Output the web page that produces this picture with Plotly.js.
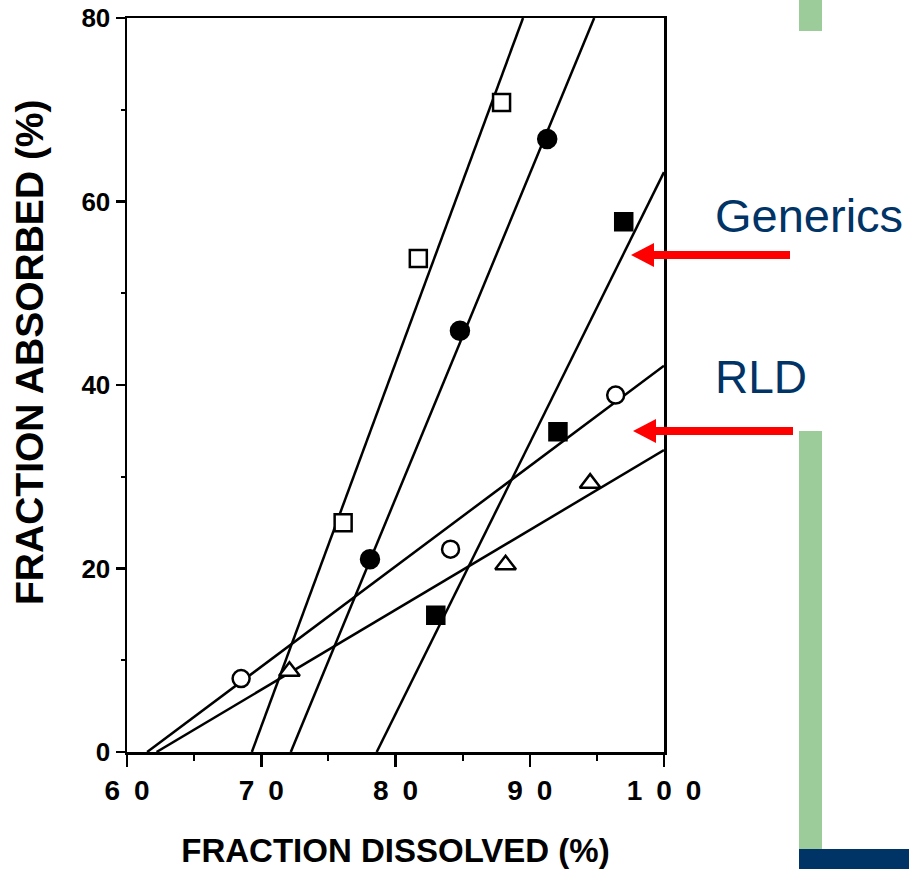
<!DOCTYPE html>
<html>
<head>
<meta charset="utf-8">
<script src="https://cdn.plot.ly/plotly-3.0.1.min.js"></script>
<style>
  html, body { margin: 0; padding: 0; background: #ffffff; }
  #chart { width: 909px; height: 869px; }
</style>
</head>
<body>
<div id="chart"></div>
<script>
// ---- data ----
const xTickVals = [60, 70, 80, 90, 100];
const xTickText = ["6\u20020", "7\u20020", "8\u20020", "9\u20020", "1\u20020\u20020"];
const xMinorVals = [65, 75, 85, 95];
const yTickVals = [0, 20, 40, 60, 80];
const yTickText = ["0", "20", "40", "60", "80"];
const yMinorVals = [10, 30, 50, 70];

// open squares
const openSqX = [76.1, 81.7, 87.9];
const openSqY = [25.0, 53.8, 70.8];
const openSqLineX = [69.3, 89.5];
const openSqLineY = [0, 80];

// filled circles
const fillCircX = [78.1, 84.8, 91.3];
const fillCircY = [21.0, 45.9, 66.8];
const fillCircLineX = [72.2, 94.8];
const fillCircLineY = [0, 80];

// filled squares
const fillSqX = [83.0, 92.1, 97.0];
const fillSqY = [14.9, 34.9, 57.8];
const fillSqLineX = [78.6, 100];
const fillSqLineY = [0, 63.2];

// open circles
const openCircX = [68.5, 84.1, 96.4];
const openCircY = [8.0, 22.1, 38.9];
const openCircLineX = [61.5, 100];
const openCircLineY = [0, 42.1];

// open triangles
const triX = [72.1, 88.2, 94.5];
const triY = [8.8, 20.4, 29.3];
const triLineX = [62.2, 100];
const triLineY = [0, 32.9];

const xTitle = "FRACTION DISSOLVED (%)";
const yTitle = "FRACTION ABSORBED (%)";
const labelGenerics = "Generics";
const labelRLD = "RLD";

// ---- layout helpers (pixel -> paper) ----
const W = 909, H = 869;
const L = 127, R = 664, T = 18, B = 752;
const px = v => (v - L) / (R - L);
const py = v => (B - v) / (B - T);

const FAM = "Liberation Sans, Arial, Helvetica, sans-serif";
const lineStyle = {color: "#000", width: 2.5};
function lineTrace(x, y) {
  return {x: x, y: y, mode: "lines", line: lineStyle, hoverinfo: "skip", showlegend: false};
}
function markerTrace(x, y, symbol, size, fill) {
  return {x: x, y: y, mode: "markers", showlegend: false, cliponaxis: false,
          marker: {symbol: symbol, size: size, color: fill, line: {color: "#000", width: 2.5}}};
}

const traces = [
  lineTrace(openSqLineX, openSqLineY),
  lineTrace(fillCircLineX, fillCircLineY),
  lineTrace(fillSqLineX, fillSqLineY),
  lineTrace(openCircLineX, openCircLineY),
  lineTrace(triLineX, triLineY),
  markerTrace(openSqX, openSqY, "square", 17, "#fff"),
  markerTrace(fillCircX, fillCircY, "circle", 18, "#000"),
  markerTrace(fillSqX, fillSqY, "square", 17, "#000"),
  markerTrace(openCircX, openCircY, "circle", 17, "#fff"),
  markerTrace(triX, triY, "triangle-up", 18, "#fff")
];

const green = "#9bcc9a", navy = "#003366", red = "#ff0000";

const shapes = [
  // green bars and navy bar (slide decoration)
  {type: "rect", xref: "paper", yref: "paper", x0: px(799), x1: px(822), y0: py(0), y1: py(31),
   fillcolor: green, line: {width: 0}, layer: "above"},
  {type: "rect", xref: "paper", yref: "paper", x0: px(799), x1: px(822), y0: py(431), y1: py(849),
   fillcolor: green, line: {width: 0}, layer: "above"},
  {type: "rect", xref: "paper", yref: "paper", x0: px(799), x1: px(909), y0: py(849), y1: py(869),
   fillcolor: navy, line: {width: 0}, layer: "above"},
  // red arrows: shafts
  {type: "rect", xref: "paper", yref: "paper", x0: px(652), x1: px(790), y0: py(251), y1: py(259),
   fillcolor: red, line: {width: 0}, layer: "above"},
  {type: "rect", xref: "paper", yref: "paper", x0: px(654), x1: px(793), y0: py(427), y1: py(435),
   fillcolor: red, line: {width: 0}, layer: "above"},
  // red arrows: heads
  {type: "path", xref: "paper", yref: "paper",
   path: `M ${px(631)} ${py(255)} L ${px(654)} ${py(243)} L ${px(654)} ${py(267)} Z`,
   fillcolor: red, line: {width: 0}, layer: "above"},
  {type: "path", xref: "paper", yref: "paper",
   path: `M ${px(633)} ${py(431)} L ${px(656)} ${py(419)} L ${px(656)} ${py(443)} Z`,
   fillcolor: red, line: {width: 0}, layer: "above"}
];

const annotations = [
  {text: yTitle, xref: "paper", yref: "paper", x: px(30), y: py(352),
   xanchor: "center", yanchor: "middle", textangle: -90, showarrow: false,
   font: {family: FAM, size: 39, weight: "bold", color: "#000"}},
  {text: labelGenerics, xref: "paper", yref: "paper", x: px(713), y: py(215),
   xanchor: "left", yanchor: "middle", showarrow: false,
   font: {family: FAM, size: 47, color: navy}},
  {text: labelRLD, xref: "paper", yref: "paper", x: px(713), y: py(377),
   xanchor: "left", yanchor: "middle", showarrow: false,
   font: {family: FAM, size: 46, color: navy}}
];

const layout = {
  width: W, height: H,
  margin: {l: L, r: W - R, t: T, b: H - B, pad: 0},
  paper_bgcolor: "#fff", plot_bgcolor: "#fff",
  showlegend: false,
  font: {family: FAM, color: "#000"},
  xaxis: {
    range: [60, 100], tickvals: xTickVals, ticktext: xTickText,
    ticks: "outside", ticklen: 12, tickwidth: 2.5, tickcolor: "#000",
    minor: {tickvals: xMinorVals, ticks: "outside", ticklen: 6, tickwidth: 2, tickcolor: "#000"},
    showline: true, linewidth: 2.5, linecolor: "#000", mirror: true,
    showgrid: false, zeroline: false,
    tickfont: {family: FAM, size: 28, weight: "bold", color: "#000"},
    title: {text: xTitle, standoff: 34,
            font: {family: FAM, size: 33, weight: "bold", color: "#000"}},
    fixedrange: true
  },
  yaxis: {
    range: [0, 80], tickvals: yTickVals, ticktext: yTickText,
    ticks: "outside", ticklen: 9, tickwidth: 2.5, tickcolor: "#000",
    minor: {tickvals: yMinorVals, ticks: "outside", ticklen: 4, tickwidth: 2, tickcolor: "#000"},
    showline: true, linewidth: 2.5, linecolor: "#000", mirror: true,
    showgrid: false, zeroline: false,
    tickfont: {family: FAM, size: 26, weight: "bold", color: "#000"},
    fixedrange: true
  },
  shapes: shapes,
  annotations: annotations
};

Plotly.newPlot("chart", traces, layout, {staticPlot: true, displayModeBar: false});
</script>
</body>
</html>
